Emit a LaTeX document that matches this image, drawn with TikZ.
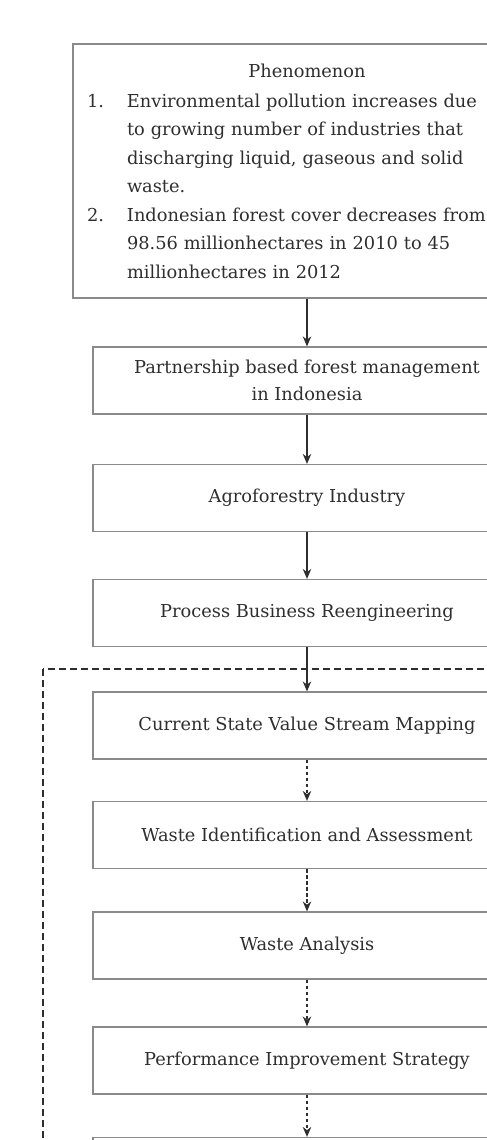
\documentclass[tikz,border=0pt]{standalone}
\usepackage{fontspec}
\setmainfont{DejaVu Serif}
\usetikzlibrary{arrows.meta,positioning}
\definecolor{boxgray}{HTML}{8A8A8A}
\definecolor{inkgray}{HTML}{2E2E2E}
\tikzset{
  stagebox/.style={draw=boxgray,line width=1.2pt,minimum width=428pt,
    minimum height=67pt,align=center,text=inkgray,
    font=\fontsize{17.8}{27}\selectfont},
  flow/.style={-{Stealth[length=10pt,width=8.5pt]},inkgray,line width=1.2pt},
  dflow/.style={flow,dash pattern=on 3.5pt off 2.5pt},
  loopframe/.style={inkgray,line width=1.1pt,dash pattern=on 7pt off 4pt},
}

\begin{document}
\begin{tikzpicture}[x=1pt,y=-1pt]
\useasboundingbox (0,0) rectangle (487,1140);
\clip (0,0) rectangle (487,1140);
% Improvement loop frame
\draw[loopframe] (43,669) rectangle (580,1260);
% Phenomenon
\node[stagebox,minimum width=468pt,minimum height=254pt,text width=440pt,
  align=left,font=\fontsize{17.8}{28.5}\selectfont] (phen) at (307,171)
  {\makebox[440pt]{Phenomenon}\\[1.5pt]
   \makebox[40pt][l]{1.}Environmental pollution increases due\\
   \hspace*{40pt}to growing number of industries that\\
   \hspace*{40pt}discharging liquid, gaseous and solid\\
   \hspace*{40pt}waste.\\
   \makebox[40pt][l]{2.}Indonesian forest cover decreases from\\
   \hspace*{40pt}98.56 millionhectares in 2010 to 45\\
   \hspace*{40pt}millionhectares in 2012};
% Stages
\node[stagebox] (partner) at (307,380.5)
  {Partnership based forest management\\in Indonesia};
\node[stagebox] (agro) at (307,498) {Agroforestry Industry};
\node[stagebox] (bpr) at (307,613) {Process Business Reengineering};
\node[stagebox] (cvsm) at (307,725.5) {Current State Value Stream Mapping};
\node[stagebox] (wia) at (307,835) {Waste Identification and Assessment};
\node[stagebox] (wana) at (307,945.5) {Waste Analysis};
\node[stagebox] (pis) at (307,1060.5) {Performance Improvement Strategy};
\node[stagebox] (next) at (307,1171) {};
% Connectors
\draw[flow] (phen) -- (partner);
\draw[flow] (partner) -- (agro);
\draw[flow] (agro) -- (bpr);
\draw[flow] (bpr) -- (cvsm);
\draw[dflow] (cvsm) -- (wia);
\draw[dflow] (wia) -- (wana);
\draw[dflow] (wana) -- (pis);
\draw[dflow] (pis) -- (next);
\end{tikzpicture}
\end{document}
